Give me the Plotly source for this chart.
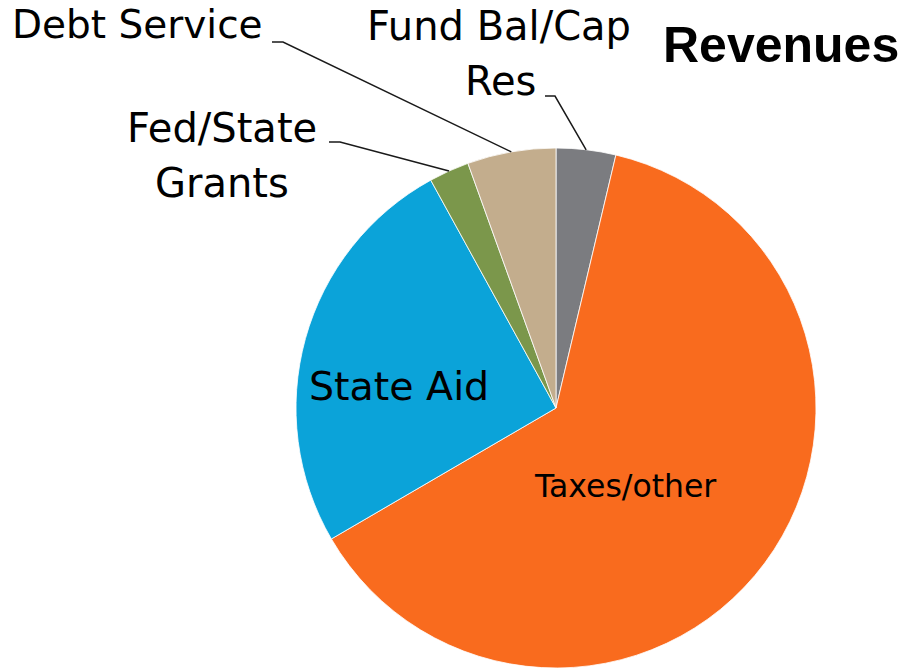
import math
import plotly.graph_objects as go

# Revenue sources, clockwise from 12 o'clock
categories = ["Fund Bal/Cap Res", "Taxes/other", "State Aid", "Fed/State Grants", "Debt Service"]
shares = [3.7, 62.9, 25.4, 2.5, 5.5]
colors = ["#7b7c80", "#f96b1e", "#0ba3d9", "#7b974b", "#c3ad8d"]

W, H = 904, 670
CX, CY, R = 556, 408, 260  # pie centre and radius in pixels


def px(x, y):
    """pixel position -> paper coordinates"""
    return x / W, 1 - y / H


def slice_edge(name):
    """point on the rim at the middle of a slice, in pixels"""
    total = sum(shares)
    start = 0.0
    for c, v in zip(categories, shares):
        if c == name:
            mid = (start + v / 2) / total * 2 * math.pi
            return CX + R * math.sin(mid), CY - R * math.cos(mid)
        start += v
    raise KeyError(name)


fig = go.Figure(
    go.Pie(
        labels=categories,
        values=shares,
        sort=False,
        direction="clockwise",
        rotation=0,
        marker=dict(colors=colors, line=dict(color="white", width=0.8)),
        textinfo="none",
        hoverinfo="label+percent",
        domain=dict(x=[(CX - R) / W, (CX + R) / W], y=[1 - (CY + R) / H, 1 - (CY - R) / H]),
        showlegend=False,
    )
)

LABEL_FONT = dict(family="DejaVu Sans", size=40, color="black")

# text lines: (text, x px, y centre px, xanchor, font size)
text_lines = [
    ("Debt Service", 10, 24, "left", 39),
    ("Fund Bal/Cap", 499, 26, "center", 40),
    ("Res", 500, 81, "center", 40),
    ("Fed/State", 222, 128, "center", 40),
    ("Grants", 222, 183, "center", 40),
    ("State Aid", 399, 386, "center", 39.5),
    ("Taxes/other", 625, 486, "center", 31.5),
]

annotations = []
for text, x, y, anchor, size in text_lines:
    xp, yp = px(x, y)
    annotations.append(dict(
        text=text, x=xp, y=yp, xref="paper", yref="paper",
        xanchor=anchor, yanchor="middle", showarrow=False,
        font=dict(LABEL_FONT, size=size),
    ))

# chart title
tx, ty = px(781, 45)
annotations.append(dict(
    text="<b>Revenues</b>", x=tx, y=ty, xref="paper", yref="paper",
    xanchor="center", yanchor="middle", showarrow=False,
    font=dict(family="Liberation Sans", size=50, color="black"),
))

# leader lines: short horizontal tail beside the text, then down to the slice rim
leaders = [
    ("Debt Service", (272, 42), (283, 42)),
    ("Fund Bal/Cap Res", (545, 96), (555, 96)),
    ("Fed/State Grants", (329, 142), (340, 142)),
]
shapes = []
for name, p0, p1 in leaders:
    ex, ey = slice_edge(name)
    pts = [px(*p0), px(*p1), px(ex, ey)]
    path = "M {} {} L {} {} L {} {}".format(*[c for p in pts for c in p])
    shapes.append(dict(type="path", path=path, xref="paper", yref="paper",
                       line=dict(color="#1a1a1a", width=1.5)))

fig.update_layout(
    width=W, height=H,
    margin=dict(l=0, r=0, t=0, b=0),
    paper_bgcolor="white",
    plot_bgcolor="white",
    annotations=annotations,
    shapes=shapes,
)

fig.write_html("out.html")
